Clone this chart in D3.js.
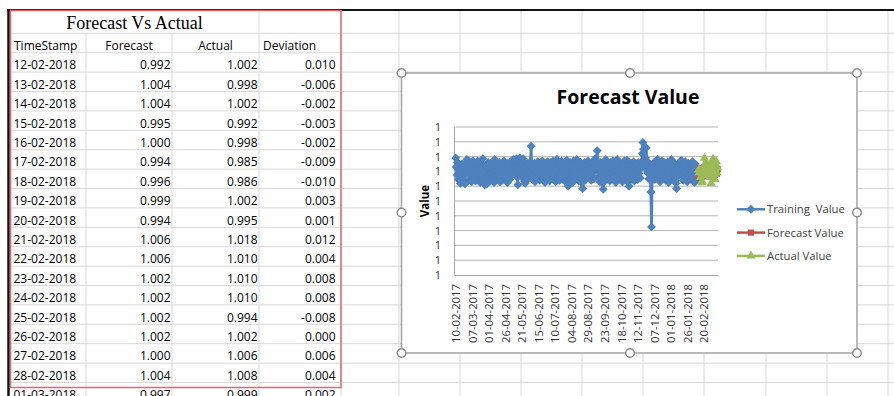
<!DOCTYPE html>
<html>
<head>
<meta charset="utf-8">
<script src="https://cdn.jsdelivr.net/npm/d3@7"></script>
<style>
    html, body { margin: 0; padding: 0; background: #fff; }
    svg { display: block; }
</style>
</head>
<body>
<svg id="sheet" width="894" height="396"></svg>
<script>
// ---- data ----
const tableDates = ['12-02-2018', '13-02-2018', '14-02-2018', '15-02-2018', '16-02-2018', '17-02-2018',
    '18-02-2018', '19-02-2018', '20-02-2018', '21-02-2018', '22-02-2018', '23-02-2018', '24-02-2018',
    '25-02-2018', '26-02-2018', '27-02-2018', '28-02-2018', '01-03-2018'];
const tableDeviation = [0.010, -0.006, -0.002, -0.003, -0.002, -0.009, -0.010, 0.003, 0.001, 0.012,
    0.004, 0.008, 0.008, -0.008, 0.000, 0.006, 0.004, 0.002];

// daily series, training 10-02-2017 .. 11-02-2018
const trainingStart = '10-02-2017';
const trainingValues = [
    // feb
    1.018, 1.006, 0.995, 1.012, 0.989, 1.004, 0.998, 0.984, 1.002, 0.987, 1.010, 0.993, 0.985, 1.006, 0.983, 0.997, 1.011, 1.016, 0.999,
    // mar
    1.003, 0.988, 1.013, 0.996, 1.008, 0.986, 1.001, 1.014, 0.992, 0.999, 1.010, 0.987, 1.004, 0.995, 1.014, 0.990, 1.000, 1.011, 0.985, 1.006, 0.994, 1.002, 1.017, 0.998, 0.988, 0.982, 1.008, 0.992, 0.983, 1.004, 1.012,
    // apr
    0.995, 1.006, 0.987, 1.011, 0.999, 0.990, 1.008, 1.001, 0.985, 1.016, 1.003, 0.994, 1.013, 0.989, 1.006, 0.998, 1.012, 0.986, 1.002, 0.993, 1.010, 0.988, 1.004, 1.014, 0.996, 0.990, 1.009, 1.000, 0.985, 1.011,
    // may
    0.999, 1.007, 0.989, 1.013, 0.995, 1.003, 1.010, 1.016, 1.004, 0.996, 1.014, 1.001, 1.017, 0.992, 0.982, 1.006, 1.014, 1.018, 1.002, 0.993, 1.015, 1.009, 1.017, 0.997, 0.987, 0.984, 1.005, 0.994, 1.011, 0.990, 1.003,
    // jun
    1.009, 0.992, 1.013, 1.034, 1.007, 0.989, 1.003, 0.996, 1.011, 0.986, 1.001, 1.008, 0.993, 1.013, 0.997, 1.004, 0.988, 1.011, 0.994, 1.002, 1.014, 0.990, 1.006, 0.999, 0.985, 1.010, 1.001, 0.992, 1.013, 0.996,
    // jul
    1.005, 0.987, 1.012, 0.997, 1.003, 0.990, 1.014, 0.995, 1.008, 1.000, 0.986, 1.011, 1.016, 1.002, 0.993, 1.013, 0.988, 1.006, 0.996, 1.014, 0.991, 1.003, 0.998, 1.011, 0.987, 1.008, 0.994, 1.015, 1.001, 0.980, 1.005,
    // aug
    0.997, 1.012, 0.990, 1.006, 1.001, 0.985, 1.014, 0.994, 1.005, 0.998, 1.011, 1.016, 0.991, 1.008, 0.987, 1.003, 1.013, 0.996, 1.002, 0.984, 0.977, 1.006, 0.993, 1.012, 1.001, 0.989, 1.009, 0.997, 1.014, 0.991, 1.004,
    // sep
    0.995, 1.011, 0.988, 1.005, 0.998, 1.013, 0.990, 1.007, 1.017, 1.002, 1.012, 1.028, 1.008, 0.993, 1.003, 0.986, 1.012, 0.996, 1.001, 0.984, 0.976, 1.005, 0.997, 1.012, 1.016, 1.003, 0.989, 1.009, 0.994, 1.006,
    // oct
    0.987, 1.012, 0.996, 1.005, 0.990, 1.014, 1.000, 0.992, 1.008, 0.985, 1.011, 1.016, 1.001, 0.993, 1.013, 0.989, 1.006, 0.997, 1.003, 0.986, 1.009, 0.994, 1.014, 0.998, 1.005, 0.988, 1.015, 1.002, 0.985, 0.980, 1.004,
    // nov
    0.996, 1.011, 0.990, 1.006, 0.998, 1.013, 0.987, 1.005, 0.994, 1.010, 1.001, 0.989, 1.012, 0.997, 1.003, 0.991, 1.008, 1.013, 1.024, 1.039, 1.030, 1.012, 1.005, 1.018, 1.032, 1.014, 0.998, 1.009, 0.990, 1.005,
    // dec
    0.997, 0.972, 0.925, 0.988, 1.008, 0.994, 1.012, 0.989, 1.003, 1.013, 0.996, 1.016, 1.001, 0.992, 1.010, 0.986, 1.006, 0.998, 1.014, 0.990, 1.005, 0.995, 1.012, 0.988, 1.008, 1.000, 0.993, 1.013, 0.985, 1.004, 0.997,
    // jan
    1.009, 1.016, 1.000, 0.990, 1.012, 0.994, 1.005, 0.987, 0.984, 0.977, 1.002, 0.993, 1.011, 0.998, 1.007, 1.013, 1.015, 0.995, 1.004, 0.988, 1.010, 0.997, 1.013, 0.991, 1.006, 0.986, 1.002, 1.011, 0.994, 1.005, 0.989,
    // feb
    1.008, 0.998, 1.013, 0.991, 1.004, 0.985, 1.010, 0.996, 1.003, 0.990, 1.001,
];

// forecast window 12-02-2018 .. 13-03-2018
const forecastStart = '12-02-2018';
const forecastValues = [0.992, 1.004, 1.004, 0.995, 1.000, 0.994, 0.996, 0.999, 0.994, 1.006, 1.006, 1.002,
    1.002, 1.002, 1.002, 1.000, 1.004, 0.997, 1.001, 0.996, 1.003, 0.998, 1.005, 0.999, 1.002, 0.995,
    1.004, 1.001, 0.997, 1.003];
const actualValues = [1.002, 0.998, 1.002, 0.992, 0.998, 0.985, 0.986, 1.002, 0.995, 1.018, 1.010, 1.010,
    1.010, 0.994, 1.002, 1.006, 1.008, 0.999, 0.992, 0.984, 1.004, 1.012, 1.017, 1.006, 0.996, 0.989,
    1.008, 1.013, 0.998, 1.005];

const xTickLabels = ['10-02-2017', '07-03-2017', '01-04-2017', '26-04-2017', '21-05-2017', '15-06-2017',
    '10-07-2017', '04-08-2017', '29-08-2017', '23-09-2017', '18-10-2017', '12-11-2017', '07-12-2017',
    '01-01-2018', '26-01-2018', '20-02-2018'];
const yDomain = [0.86, 1.06];

// ---- layout ----
const W = 894;
const H = 396;
const colEdges = [10, 86, 172, 259, 341, 399, 460, 521, 582, 643, 704, 766, 827, 888];
const titleRowBottom = 33.3;
const rowH = 19.4;
const chartBox = { x0: 401.5, y0: 73, x1: 857, y1: 353 };
const plot = { left: 454, right: 718, top: 127, bottom: 275 };
const sans = "'Open Sans', 'Liberation Sans', sans-serif";

const parseDate = d3.timeParse('%d-%m-%Y');
const fmt3 = v => v.toFixed(3);

const svg = d3.select('#sheet');

// spreadsheet gridlines
const grid = svg.append('g')
    .attr('stroke', '#d8d8d8')
    .attr('stroke-width', 1);
grid.selectAll('.hline')
    .data(d3.range(titleRowBottom, H + rowH, rowH))
    .join('line')
    .attr('class', 'hline')
    .attr('x1', 10).attr('x2', W)
    .attr('y1', d => d).attr('y2', d => d);
grid.selectAll('.vline')
    .data(colEdges.slice(1))
    .join('line')
    .attr('class', 'vline')
    .attr('x1', d => d).attr('x2', d => d)
    // A1:C1 is merged for the title
    .attr('y1', (d, i) => (i < 2 ? titleRowBottom : 10))
    .attr('y2', H);

// sheet frame (black edge top / left)
svg.append('line')
    .attr('x1', 7).attr('x2', W).attr('y1', 10).attr('y2', 10)
    .attr('stroke', '#111').attr('stroke-width', 2);
svg.append('line')
    .attr('x1', 8.5).attr('x2', 8.5).attr('y1', 9).attr('y2', H)
    .attr('stroke', '#111').attr('stroke-width', 2.5);

// ---- table ----
const table = svg.append('g')
    .attr('font-family', sans)
    .attr('font-size', 12)
    .attr('fill', '#000');

table.append('text')
    .attr('x', (colEdges[0] + colEdges[3]) / 2)
    .attr('y', 29)
    .attr('text-anchor', 'middle')
    .attr('font-family', "'Liberation Serif', 'Times New Roman', serif")
    .attr('font-size', 18)
    .text('Forecast Vs Actual');

const headerY = titleRowBottom + rowH - 2.8;
table.append('text').attr('x', colEdges[0] + 4).attr('y', headerY).text('TimeStamp');
table.append('text').attr('x', (colEdges[1] + colEdges[2]) / 2).attr('y', headerY)
    .attr('text-anchor', 'middle').text('Forecast');
table.append('text').attr('x', (colEdges[2] + colEdges[3]) / 2).attr('y', headerY)
    .attr('text-anchor', 'middle').text('Actual');
table.append('text').attr('x', colEdges[3] + 4).attr('y', headerY).text('Deviation');

const rows = tableDates.map((d, i) => ({
    date: d,
    forecast: forecastValues[i],
    actual: actualValues[i],
    deviation: tableDeviation[i],
}));

const row = table.selectAll('.row')
    .data(rows)
    .join('g')
    .attr('class', 'row')
    .attr('transform', (d, i) => `translate(0,${titleRowBottom + rowH * (i + 2) - 2.8})`);
row.append('text').attr('x', colEdges[0] + 3.5).text(d => d.date);
row.append('text').attr('x', colEdges[2] - 1.5).attr('text-anchor', 'end').text(d => fmt3(d.forecast));
row.append('text').attr('x', colEdges[3] - 1.5).attr('text-anchor', 'end').text(d => fmt3(d.actual));
row.append('text').attr('x', colEdges[4] - 5.5).attr('text-anchor', 'end').text(d => fmt3(d.deviation));

// copy-range highlight
svg.append('rect')
    .attr('x', 10.5).attr('y', 10.5)
    .attr('width', colEdges[4] - 10.5).attr('height', 377)
    .attr('fill', 'none')
    .attr('stroke', '#e5656a')
    .attr('stroke-width', 1.5);

// ---- chart ----
const chart = svg.append('g');

chart.append('rect')
    .attr('x', chartBox.x0).attr('y', chartBox.y0)
    .attr('width', chartBox.x1 - chartBox.x0).attr('height', chartBox.y1 - chartBox.y0)
    .attr('fill', '#fff')
    .attr('stroke', '#a3a3a3')
    .attr('stroke-width', 1.5);

chart.append('text')
    .attr('x', 628).attr('y', 104)
    .attr('text-anchor', 'middle')
    .attr('font-family', sans)
    .attr('font-weight', 'bold')
    .attr('font-size', 19.5)
    .attr('fill', '#000')
    .text('Forecast Value');

const trainingDates = trainingValues.map((v, i) => d3.timeDay.offset(parseDate(trainingStart), i));
const forecastDates = forecastValues.map((v, i) => d3.timeDay.offset(parseDate(forecastStart), i));

const x = d3.scaleTime()
    .domain([d3.timeHour.offset(trainingDates[0], -60),
        d3.timeHour.offset(forecastDates[forecastDates.length - 1], 12)])
    .range([plot.left, plot.right]);
const y = d3.scaleLinear()
    .domain(yDomain)
    .range([plot.bottom, plot.top]);

const yTicks = y.ticks(10);

chart.append('g')
    .selectAll('line')
    .data(yTicks.slice(1))
    .join('line')
    .attr('x1', plot.left).attr('x2', plot.right)
    .attr('y1', d => y(d)).attr('y2', d => y(d))
    .attr('stroke', '#b4b4b4')
    .attr('stroke-width', 1);

const yAxis = chart.append('g')
    .attr('transform', `translate(${plot.left},0)`)
    .call(d3.axisLeft(y).tickValues(yTicks).tickFormat(d3.format('.0f')).tickSize(0).tickPadding(13));
yAxis.select('.domain').attr('stroke', '#a6a6a6');
yAxis.selectAll('text')
    .attr('font-family', sans)
    .attr('font-size', 11)
    .attr('fill', '#333');

const xAxis = chart.append('g')
    .attr('transform', `translate(0,${plot.bottom})`)
    .call(d3.axisBottom(x)
        .tickValues(xTickLabels.map(parseDate))
        .tickFormat(d3.timeFormat('%d-%m-%Y'))
        .tickSize(0));
xAxis.select('.domain').attr('stroke', '#a6a6a6');
xAxis.selectAll('text')
    .attr('font-family', sans)
    .attr('font-size', 11.3)
    .attr('fill', '#333')
    .attr('transform', 'rotate(-90)')
    .attr('text-anchor', 'end')
    .attr('x', -9)
    .attr('y', 0)
    .attr('dy', '0.35em');

chart.append('text')
    .attr('transform', `translate(429,${(plot.top + plot.bottom) / 2}) rotate(-90)`)
    .attr('text-anchor', 'middle')
    .attr('font-family', sans)
    .attr('font-weight', 'bold')
    .attr('font-size', 11.5)
    .attr('fill', '#000')
    .text('Value');

const series = [
    { name: 'Training  Value', color: '#4f81bd', symbol: d3.symbolSquare, size: 40, rotate: 45,
        dates: trainingDates, values: trainingValues },
    { name: 'Forecast Value', color: '#c0504d', symbol: d3.symbolSquare, size: 38, rotate: 0,
        dates: forecastDates, values: forecastValues },
    { name: 'Actual Value', color: '#9bbb59', symbol: d3.symbolTriangle, size: 38, rotate: 0,
        dates: forecastDates, values: actualValues },
];

const line = d3.line()
    .x(d => x(d[0]))
    .y(d => y(d[1]));

series.forEach((s) => {
    const pts = s.dates.map((d, i) => [d, s.values[i]]);
    const g = chart.append('g');
    g.append('path')
        .attr('d', line(pts))
        .attr('fill', 'none')
        .attr('stroke', s.color)
        .attr('stroke-width', 2.75)
        .attr('stroke-linejoin', 'round');
    g.selectAll('path.mark')
        .data(pts)
        .join('path')
        .attr('class', 'mark')
        .attr('d', d3.symbol(s.symbol, s.size))
        .attr('transform', d => `translate(${x(d[0])},${y(d[1])}) rotate(${s.rotate})`)
        .attr('fill', s.color);
});

// legend
const legend = chart.append('g')
    .attr('transform', 'translate(737,209.3)');
const item = legend.selectAll('g')
    .data(series)
    .join('g')
    .attr('transform', (d, i) => `translate(0,${i * 23.3})`);
item.append('line')
    .attr('x1', 0).attr('x2', 28)
    .attr('stroke', d => d.color)
    .attr('stroke-width', 2.5);
item.append('path')
    .attr('d', d => d3.symbol(d.symbol, d.size)())
    .attr('transform', d => `translate(14,0) rotate(${d.rotate})`)
    .attr('fill', d => d.color);
item.append('text')
    .attr('x', 30)
    .attr('dy', '0.35em')
    .attr('font-family', sans)
    .attr('font-size', 11.3)
    .attr('fill', '#404040')
    .style('white-space', 'pre')
    .text(d => d.name);

// selection handles
const midX = (chartBox.x0 + chartBox.x1) / 2 + 0.75;
const midY = (chartBox.y0 + chartBox.y1) / 2 - 0.5;
const handles = [
    [chartBox.x0, chartBox.y0], [midX, chartBox.y0], [chartBox.x1, chartBox.y0],
    [chartBox.x0, midY], [chartBox.x1, midY],
    [chartBox.x0, chartBox.y1], [midX, chartBox.y1], [chartBox.x1, chartBox.y1],
];
chart.selectAll('circle.handle')
    .data(handles)
    .join('circle')
    .attr('class', 'handle')
    .attr('cx', d => d[0]).attr('cy', d => d[1])
    .attr('r', 4.3)
    .attr('fill', '#fff')
    .attr('stroke', '#8c8c8c')
    .attr('stroke-width', 1.5);
</script>
</body>
</html>
